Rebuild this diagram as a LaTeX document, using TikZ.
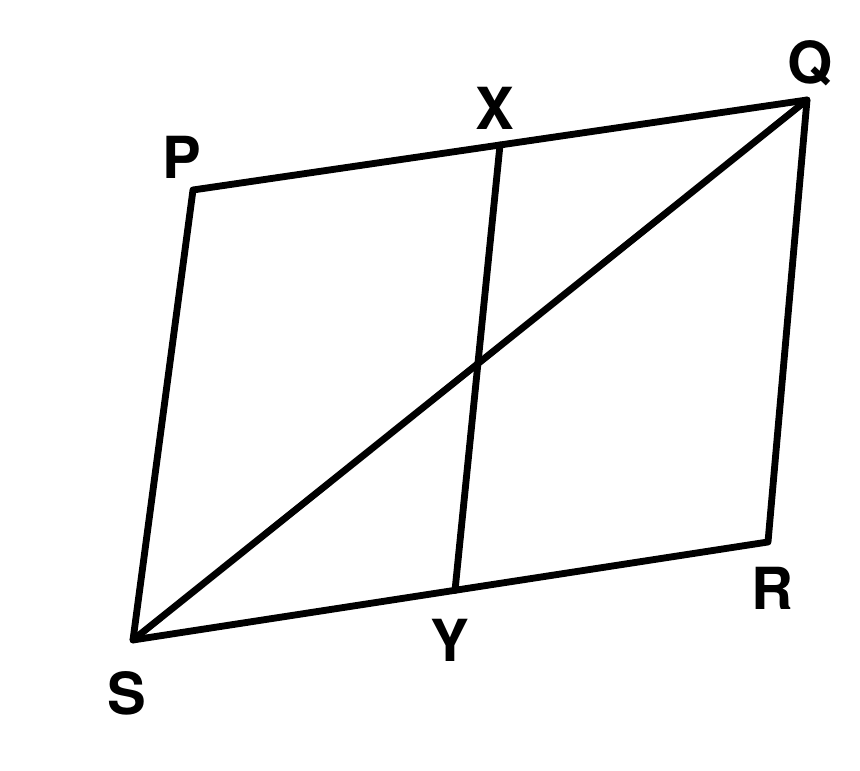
\documentclass[tikz,border=0pt]{standalone}
\usepackage{fontspec}
\setsansfont{TeX Gyre Heros}
\usepackage{tikz}
\usetikzlibrary{calc}
\tikzstyle{side}=[line width=3.9pt,line join=round,line cap=round]
\tikzstyle{vlabel}=[inner sep=0pt,font=\fontsize{33}{33}\sffamily\bfseries]

\begin{document}
\begin{tikzpicture}
        \useasboundingbox (0,0) rectangle (17.2,15.42);
        \coordinate (p) at (3.86,11.62);
        \coordinate (q) at (16.14,13.42);
        \coordinate (r) at (15.36,4.58);
        \coordinate (s) at (2.66,2.62);
        \coordinate (x) at (10.0,12.52);
        \coordinate (y) at (9.10,3.61);
        \draw[side] (s) -- (p) -- (q) -- (r) -- (s) -- cycle;
        \draw[side] (s) -- (q);
        \draw[side] (x) -- (y);
        \node[vlabel] (lp) at (3.64,12.28) {P};
        \node[vlabel] (lq) at (16.2,14.16) {Q};
        \node[vlabel] (lr) at (15.44,3.66) {R};
        \node[vlabel] (ls) at (2.54,1.56) {S};
        \node[vlabel] (lx) at (9.9,13.26) {X};
        \node[vlabel] (ly) at (9.0,2.62) {Y};
      \end{tikzpicture}
\end{document}
